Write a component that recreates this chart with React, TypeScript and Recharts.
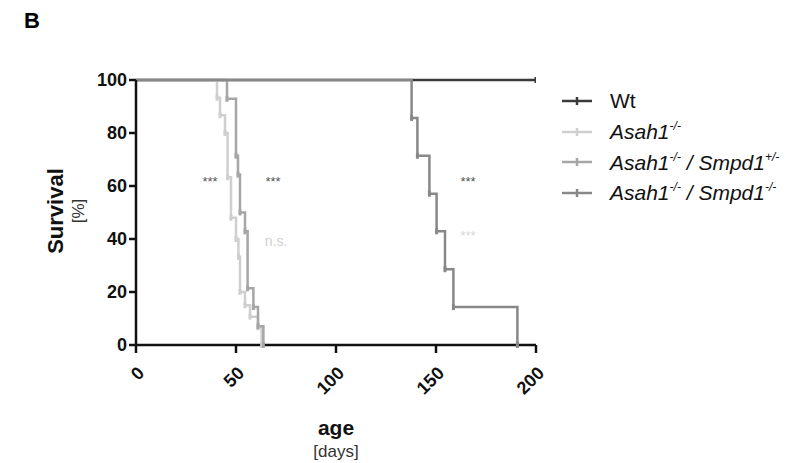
import React from 'react';
import { LineChart, Line, XAxis, YAxis } from 'recharts';

const FONT = '"Liberation Sans", Arial, Helvetica, sans-serif';

// Kaplan-Meier steps (day, % survival)
const wtDays = [0, 200];
const wtSurv = [100, 100];

const asahDays = [0, 40.5, 42, 44.5, 45.8, 47.5, 50, 51.2, 52, 54.5, 57, 61, 62.8];
const asahSurv = [100, 93.3, 86.7, 80, 63.3, 48, 40, 33.3, 20, 15, 10.7, 6.7, 0];

const hetDays = [0, 45.5, 50, 51, 52, 54.5, 55.8, 58.7, 61, 63.7];
const hetSurv = [100, 92.9, 71.4, 64.3, 50, 42.9, 21.4, 14.3, 7.1, 0];

const koDays = [0, 137.8, 140.7, 146.7, 150.3, 154.5, 158.7, 190.7];
const koSurv = [100, 85.7, 71.4, 57.1, 42.9, 28.6, 14.3, 0];

const xTicks = [0, 50, 100, 150, 200];
const yTicks = [0, 20, 40, 60, 80, 100];

const seriesNames = ['Wt', 'Asah1', 'Asah1 / Smpd1+/-', 'Asah1 / Smpd1-/-'];
const seriesColors = ['#3a3a3a', '#cfcfcf', '#a6a6a6', '#888888'];

const toPoints = (days: number[], surv: number[]) =>
  days.map((d, i) => ({ day: d, surv: surv[i] }));

const series = [
  toPoints(wtDays, wtSurv),
  toPoints(asahDays, asahSurv),
  toPoints(hetDays, hetSurv),
  toPoints(koDays, koSurv),
];

function TickDot(props: any) {
  const { cx, cy, index, stroke } = props;
  if (index === 0 || cx == null) return null;
  return <line x1={cx} x2={cx} y1={cy - 3} y2={cy + 3} stroke={stroke} strokeWidth={3} />;
}

function XTick(props: any) {
  const { x, y, payload } = props;
  const ax = x + 5;
  const ay = y + 15;
  return (
    <text
      x={ax}
      y={ay}
      transform={`rotate(-45 ${ax} ${ay})`}
      textAnchor="end"
      dominantBaseline="central"
      fontFamily={FONT}
      fontWeight="bold"
      fontSize={18}
      fill="#111"
    >
      {payload.value}
    </text>
  );
}

const abs = (x: number, y: number): React.CSSProperties => ({
  position: 'absolute',
  left: x,
  top: y,
  fontFamily: FONT,
  whiteSpace: 'nowrap',
});

function LegendRow({ idx, label }: { idx: number; label: React.ReactNode }) {
  const top = 88 + idx * 30.5;
  return (
    <div style={{ ...abs(562, top), display: 'flex', alignItems: 'center', height: 26 }}>
      <svg width={30} height={12} style={{ marginRight: 18 }}>
        <line x1={0} x2={30} y1={6} y2={6} stroke={seriesColors[idx]} strokeWidth={2.5} />
        <line x1={15} x2={15} y1={2} y2={10} stroke={seriesColors[idx]} strokeWidth={2.5} />
      </svg>
      <span style={{ fontSize: 21, color: '#111' }}>{label}</span>
    </div>
  );
}

const sup = (s: string) => <sup style={{ fontSize: 12, verticalAlign: 9 }}>{s}</sup>;

export default function App() {
  return (
    <div style={{ position: 'absolute', left: 0, top: 0, width: 796, height: 463, background: '#fff' }}>
      <LineChart
        width={796}
        height={463}
        margin={{ top: 80, right: 260, bottom: 58, left: 76 }}
      >
        <XAxis
          dataKey="day"
          type="number"
          domain={[0, 200]}
          ticks={xTicks}
          height={60}
          axisLine={{ stroke: '#111', strokeWidth: 2.5 }}
          tickLine={{ stroke: '#111', strokeWidth: 2.5 }}
          tickSize={8}
          tick={<XTick />}
          allowDataOverflow
        />
        <YAxis
          dataKey="surv"
          type="number"
          domain={[0, 100]}
          ticks={yTicks}
          width={60}
          axisLine={{ stroke: '#111', strokeWidth: 2.5 }}
          tickLine={{ stroke: '#111', strokeWidth: 2.5 }}
          tickSize={7}
          tick={{ fontFamily: FONT, fontWeight: 'bold', fontSize: 18, fill: '#111' }}
        />
        {series.map((pts, i) => (
          <Line
            key={seriesNames[i]}
            data={pts}
            dataKey="surv"
            type="stepAfter"
            stroke={seriesColors[i]}
            strokeWidth={2.5}
            dot={<TickDot />}
            activeDot={false}
            isAnimationActive={false}
          />
        ))}
      </LineChart>

      <div style={{ ...abs(24, 8), fontSize: 22, fontWeight: 'bold' }}>B</div>

      <div
        style={{
          ...abs(56, 211),
          transform: 'translate(-50%, -50%) rotate(-90deg)',
          fontSize: 22,
          fontWeight: 'bold',
          color: '#111',
        }}
      >
        Survival
      </div>
      <div
        style={{
          ...abs(79, 211),
          transform: 'translate(-50%, -50%) rotate(-90deg)',
          fontSize: 17,
          color: '#333',
        }}
      >
        [%]
      </div>

      <div style={{ ...abs(336, 428), transform: 'translate(-50%, -50%)', fontSize: 21, fontWeight: 'bold', color: '#111' }}>
        age
      </div>
      <div style={{ ...abs(336, 452), transform: 'translate(-50%, -50%)', fontSize: 17, color: '#333' }}>
        [days]
      </div>

      <div style={{ ...abs(210, 181), transform: 'translate(-50%, -50%)', fontSize: 13, color: '#555' }}>***</div>
      <div style={{ ...abs(273, 181), transform: 'translate(-50%, -50%)', fontSize: 13, color: '#555' }}>***</div>
      <div style={{ ...abs(276, 241), transform: 'translate(-50%, -50%)', fontSize: 14, color: '#cfcfcf' }}>n.s.</div>
      <div style={{ ...abs(468, 181), transform: 'translate(-50%, -50%)', fontSize: 13, color: '#555' }}>***</div>
      <div style={{ ...abs(468, 235), transform: 'translate(-50%, -50%)', fontSize: 13, color: '#d8d8d8' }}>***</div>

      <LegendRow idx={0} label="Wt" />
      <LegendRow idx={1} label={<i>Asah1{sup('-/-')}</i>} />
      <LegendRow idx={2} label={<i>Asah1{sup('-/-')} / Smpd1{sup('+/-')}</i>} />
      <LegendRow idx={3} label={<i>Asah1{sup('-/-')} / Smpd1{sup('-/-')}</i>} />
    </div>
  );
}
